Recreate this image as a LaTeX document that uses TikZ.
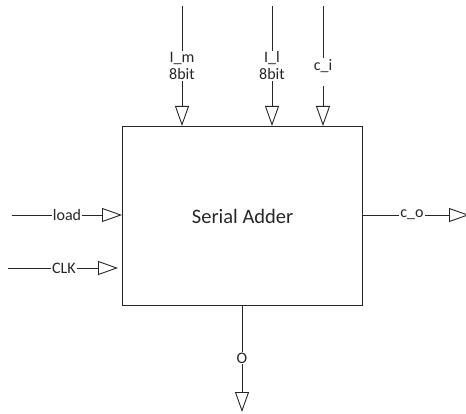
\documentclass[tikz,border=0pt]{standalone}
\usepackage{fontspec}
\setmainfont{Carlito}
\usetikzlibrary{arrows.meta}
\begin{document}
\begin{tikzpicture}[x=1pt,y=-1pt,
  wire/.style={draw=black!85, line width=0.9pt},
  inarrow/.style={wire, -{Triangle[open,length=20pt,width=14pt,line width=0.9pt]}},
  lbl/.style={inner sep=1pt, font=\fontsize{16}{17}\selectfont, align=center, text=black!85},
  block/.style={draw=black!85, line width=1.3pt, font=\fontsize{20.5}{24}\selectfont, text=black!85}]
\useasboundingbox (0,0) rectangle (466,414);
\node[block, minimum width=240pt, minimum height=179pt, anchor=north west] (box) at (122,126) {Serial Adder};
% top inputs
\coordinate (im0) at (182,6);
\node[lbl] (im) at (182,66) {I\_m\\8bit};
\draw[wire] (im0) -- (im);
\draw[inarrow] (im) -- (im |- box.north);
\coordinate (il0) at (272,6);
\node[lbl] (il) at (272,66) {I\_l\\8bit};
\draw[wire] (il0) -- (il);
\draw[inarrow] (il) -- (il |- box.north);
\coordinate (ci0) at (323,6);
\node[lbl] (ci) at (323,66) {c\_i};
\coordinate (ci1) at (323,86);
\draw[wire] (ci0) -- (ci);
\draw[inarrow] (ci1) -- (ci1 |- box.north);
% left inputs
\coordinate (ld0) at (12,215);
\node[lbl] (ld) at (67,215) {load};
\draw[wire] (ld0) -- (ld);
\draw[inarrow] (ld) -- (ld -| box.west);
\coordinate (ck0) at (8,268);
\node[lbl] (ck) at (64,268) {CLK};
\draw[wire] (ck0) -- (ck);
\coordinate (ckend) at (118,268);
\draw[inarrow] (ck) -- (ckend);
% right output
\coordinate (co0) at (box.east |- 0,215);
\node[lbl] (co) at (412,215) {c\_o};
\draw[wire] (co0) -- (co);
\coordinate (coend) at (469,215);
\draw[inarrow] (co) -- (coend);
% bottom output
\coordinate (o0) at (box.south -| 242,0);
\node[lbl] (o) at (242,358) {O};
\draw[wire] (o0) -- (o);
\coordinate (oend) at (242,412);
\draw[inarrow] (o) -- (oend);
\end{tikzpicture}
\end{document}
